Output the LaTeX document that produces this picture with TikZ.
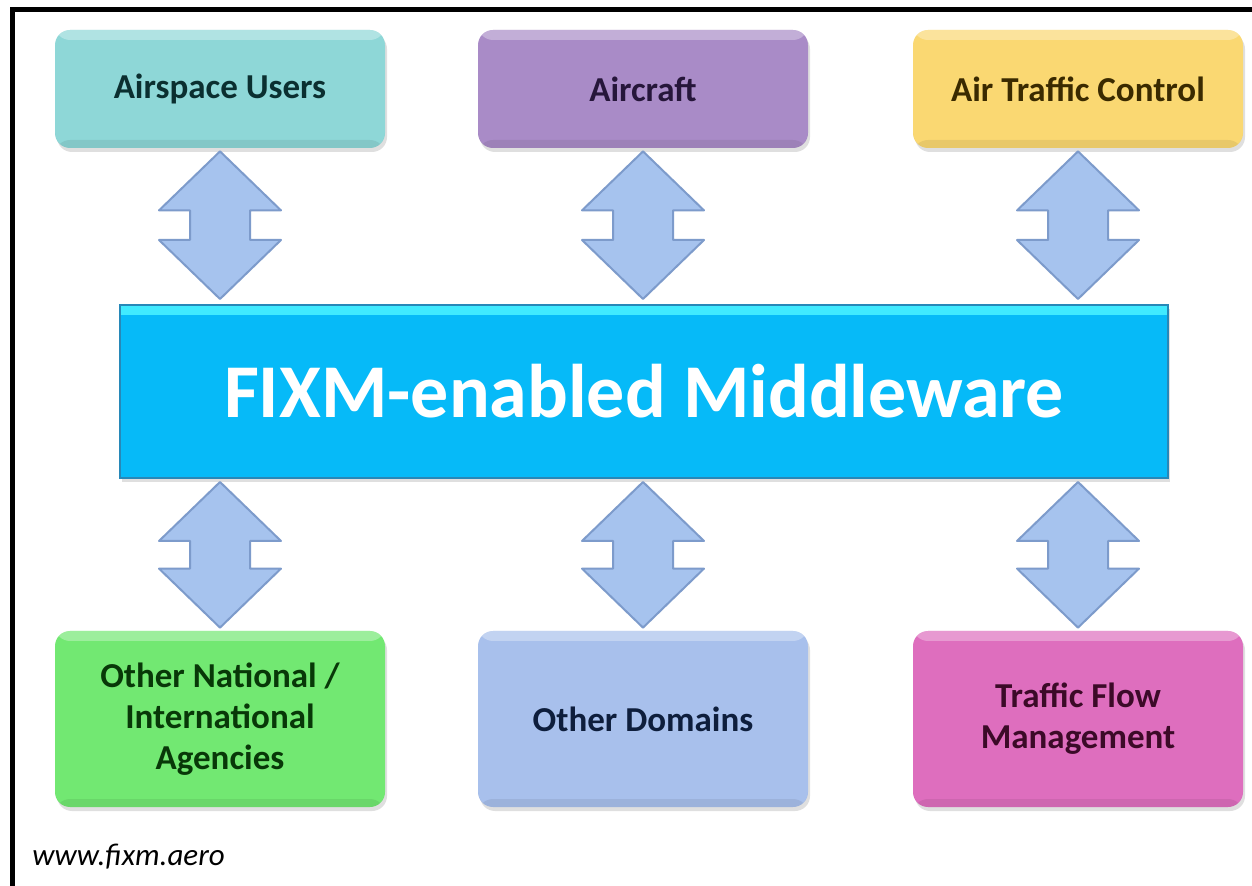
\documentclass[tikz,border=0pt]{standalone}
\usepackage{fontspec}
\setmainfont{Carlito}
\usetikzlibrary{calc,shadows}
\definecolor{cTeal}{HTML}{8ED7D7}
\definecolor{tTeal}{HTML}{0B2F30}
\definecolor{cPurp}{HTML}{A98BC7}
\definecolor{tPurp}{HTML}{26163A}
\definecolor{cYell}{HTML}{FAD872}
\definecolor{tYell}{HTML}{3A2A00}
\definecolor{cGreen}{HTML}{72E872}
\definecolor{tGreen}{HTML}{083808}
\definecolor{cBlue}{HTML}{A8C0EC}
\definecolor{tBlue}{HTML}{0E1E3C}
\definecolor{cPink}{HTML}{DE6EBE}
\definecolor{tPink}{HTML}{3C0A28}
\definecolor{cMW}{HTML}{06BAF8}
\definecolor{cMWtop}{HTML}{40EAFF}
\definecolor{cMWedge}{HTML}{2788B8}
\definecolor{arrowFill}{HTML}{A6C3EE}
\definecolor{arrowEdge}{HTML}{7D9BCB}
\newcommand\dbarrow[2]{%
  \path[dbl] let \p1=#1, \p2=#2 in
    (\x1,\y1) -- (\x1+30.5pt,\y1-29.5pt) -- (\x1+15pt,\y1-29.5pt)
    -- (\x1+15pt,\y2+29.5pt) -- (\x1+30.5pt,\y2+29.5pt) -- (\x1,\y2)
    -- (\x1-30.5pt,\y2+29.5pt) -- (\x1-15pt,\y2+29.5pt)
    -- (\x1-15pt,\y1-29.5pt) -- (\x1-30.5pt,\y1-29.5pt) -- cycle;}
\begin{document}
\begin{tikzpicture}[x=0.5pt,y=-0.5pt,
  box/.style={rounded corners=7.5pt, minimum width=165pt, align=center,
    inner sep=2pt,
    font=\fontsize{17.5}{20.5}\selectfont\bfseries,
    drop shadow={shadow xshift=1pt, shadow yshift=-2pt, opacity=0.25, fill=gray},
    path picture={\fill[white,opacity=0.3] (path picture bounding box.north west)
      rectangle ([yshift=-5pt]path picture bounding box.north east);
      \fill[black,opacity=0.07] (path picture bounding box.south west)
      rectangle ([yshift=4pt]path picture bounding box.south east);}},
  topbox/.style={box, minimum height=59pt},
  botbox/.style={box, minimum height=88pt},
  mwbox/.style={rectangle, fill=cMW, draw=cMWedge, line width=1pt,
    minimum width=524pt, minimum height=86.5pt, text=white,
    font=\fontsize{38}{40}\selectfont\bfseries,
    drop shadow={shadow xshift=1pt, shadow yshift=-2pt, opacity=0.25, fill=gray},
    path picture={\fill[cMWtop] (path picture bounding box.north west)
      rectangle ([yshift=-5pt]path picture bounding box.north east);}},
  dbl/.style={fill=arrowFill, draw=arrowEdge, line width=1pt, line join=round},
  frame/.style={line width=2.5pt, black}]
\useasboundingbox (0,0) rectangle (1252,886);
\fill[white] (0,0) rectangle (1252,886);
\draw[frame] (12.5,886) -- (12.5,9.5) -- (1252,9.5);

\node[topbox, fill=cTeal, text=tTeal] (au) at (220,89) {Airspace Users};
\node[topbox, fill=cPurp, text=tPurp] (ac) at (643,89) {Aircraft};
\node[topbox, fill=cYell, text=tYell] (atc) at (1078,89) {Air Traffic Control};

\node[mwbox] (mw) at (644,391.5) {FIXM-enabled Middleware};

\node[botbox, fill=cGreen, text=tGreen] (ona) at (220,719) {Other National /\\International\\Agencies};
\node[botbox, fill=cBlue, text=tBlue] (od) at (643,719) {Other Domains};
\node[botbox, fill=cPink, text=tPink] (tfm) at (1078,719) {Traffic Flow\\Management};

\dbarrow{($(au.south)+(0,3)$)}{($(mw.north -| au.south)+(0,-5)$)}
\dbarrow{($(ac.south)+(0,3)$)}{($(mw.north -| ac.south)+(0,-5)$)}
\dbarrow{($(atc.south)+(0,3)$)}{($(mw.north -| atc.south)+(0,-5)$)}
\dbarrow{($(mw.south -| ona.north)+(0,3)$)}{($(ona.north)+(0,-3)$)}
\dbarrow{($(mw.south -| od.north)+(0,3)$)}{($(od.north)+(0,-3)$)}
\dbarrow{($(mw.south -| tfm.north)+(0,3)$)}{($(tfm.north)+(0,-3)$)}

\node[anchor=west, inner sep=0pt, font=\fontsize{15.5}{18}\selectfont\itshape] (url) at (32,857) {www.fixm.aero};
\end{tikzpicture}
\end{document}
